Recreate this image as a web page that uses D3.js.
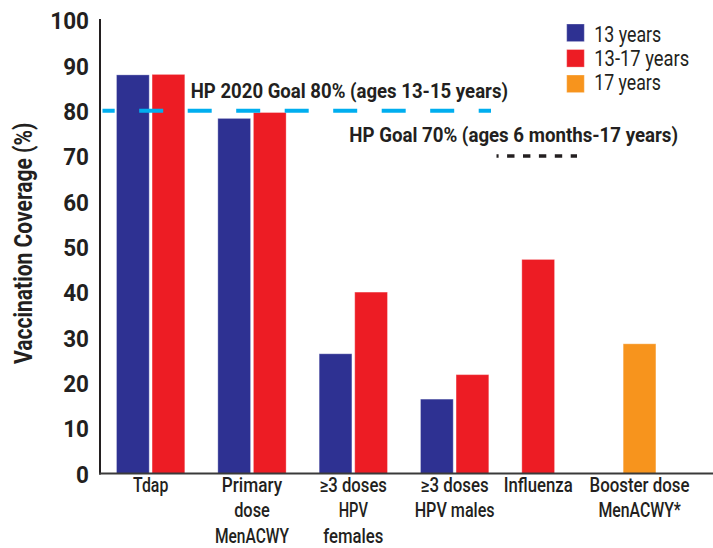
<!DOCTYPE html>
<html>
<head>
<meta charset="utf-8">
<script src="https://cdn.jsdelivr.net/npm/d3@7"></script>
<style>
  html, body { margin: 0; padding: 0; background: #fff; }
  svg { display: block; }
  text { font-family: Roboto, "Liberation Sans", "DejaVu Sans", sans-serif; fill: #231f20; }
</style>
</head>
<body>
<svg id="chart" width="713" height="548"></svg>
<script>
const categories = ["Tdap", "Primary dose MenACWY", "≥3 doses HPV females", "≥3 doses HPV males", "Influenza", "Booster dose MenACWY*"];
const categoryLines = [["Tdap"], ["Primary", "dose", "MenACWY"], ["≥3 doses", "HPV", "females"], ["≥3 doses", "HPV males"], ["Influenza"], ["Booster dose", "MenACWY*"]];
const seriesNames = ["13 years", "13-17 years", "17 years"];
const seriesColors = ["#2e3192", "#ed1c24", "#f7941d"];
const values13 = [87.9, 78.3, 26.4, 16.4, null, null];
const values1317 = [88.0, 79.6, 40.0, 21.8, 47.2, null];
const values17 = [null, null, null, null, null, 28.6];
const yTicks = [0, 10, 20, 30, 40, 50, 60, 70, 80, 90, 100];
const goal2020 = 80;
const goal2020Label = "HP 2020 Goal 80% (ages 13-15 years)";
const goalFlu = 70;
const goalFluLabel = "HP Goal 70% (ages 6 months-17 years)";
const yTitle = "Vaccination Coverage (%)";

// condensed-look text widths (styling only)
const catLineWidths = [[35.3], [60.3, 35.7, 74], [67.3, 29.3, 60], [68, 80], [69], [100, 82.3]];
const legendWidths = [67, 95, 66.7];

const svg = d3.select("#chart");
const seriesValues = [values13, values1317, values17];

const y = d3.scaleLinear().domain([0, 100]).range([473.5, 20]);
const x = d3.scaleBand().domain(categories).range([100, 708]).paddingInner(0);
const slot = d3.scaleBand().domain([0, 1]).range([16.5, 84.8]).paddingInner(0.08);

function fit(sel, w) {
  sel.attr("textLength", w).attr("lengthAdjust", "spacingAndGlyphs");
}
// horizontally squeeze a whole text element with a transform
function squeeze(sel, x0, y0, w, anchor) {
  const natural = sel.node().getComputedTextLength();
  const k = w / natural;
  sel.attr("x", 0).attr("y", 0)
    .attr("text-anchor", anchor || "start")
    .attr("transform", `translate(${x0},${y0}) scale(${k},1)`);
}

// bars
const bars = [];
categories.forEach((c, ci) => {
  let k = 0;
  seriesValues.forEach((vals, si) => {
    if (vals[ci] != null) {
      bars.push({cat: c, ci, si, v: vals[ci], slot: k});
      k++;
    }
  });
});

svg.append("g").selectAll("rect").data(bars).join("rect")
  .attr("x", d => x(d.cat) + slot(d.slot))
  .attr("width", slot.bandwidth())
  .attr("y", d => y(d.v))
  .attr("height", d => y(0) - y(d.v))
  .attr("fill", d => seriesColors[d.si])
  .attr("stroke", "#ffffff")
  .attr("stroke-opacity", 0.3)
  .attr("stroke-width", 1);

// y axis
const yAxis = d3.axisLeft(y).tickValues(yTicks).tickSize(0).tickPadding(11);
const gy = svg.append("g").attr("transform", "translate(100,0)").call(yAxis);
gy.select(".domain").remove();
gy.attr("font-family", null).attr("font-size", null);
gy.selectAll("text")
  .style("font-size", "24.5px").style("font-weight", "bold").attr("fill", "#231f20")
  .attr("dy", "0.36em")
  .each(function(d) { fit(d3.select(this), String(d).length * 12.9); });

svg.append("line").attr("x1", 100).attr("x2", 100).attr("y1", 19).attr("y2", y(0) + 1)
  .attr("stroke", "#231f20").attr("stroke-width", 2);
svg.append("line").attr("x1", 99).attr("x2", 713).attr("y1", y(0)).attr("y2", y(0))
  .attr("stroke", "#3a3a3a").attr("stroke-width", 2.2);

// y title
svg.append("text")
  .attr("transform", `translate(32.3,243.3) rotate(-90)`)
  .attr("text-anchor", "middle")
  .style("font-size", "26.5px").style("font-weight", "bold")
  .text(yTitle)
  .call(fit, 241.3);

// category labels
const catG = svg.append("g");
categories.forEach((c, ci) => {
  const present = bars.filter(b => b.ci === ci);
  const cx = d3.mean(present, b => x(b.cat) + slot(b.slot) + slot.bandwidth() / 2);
  const t = catG.append("text").attr("x", cx).attr("y", 492).attr("text-anchor", "middle")
    .style("font-size", "20px").style("font-weight", 500);
  categoryLines[ci].forEach((ln, li) => {
    t.append("tspan").attr("x", cx).attr("dy", li === 0 ? 0 : 25.3).text(ln)
      .call(fit, catLineWidths[ci][li]);
  });
});

// goal lines
svg.append("line").attr("x1", 102.5).attr("x2", 491).attr("y1", y(goal2020)).attr("y2", y(goal2020))
  .attr("stroke", "#00aeef").attr("stroke-width", 4)
  .attr("stroke-dasharray", "24,24.5").attr("stroke-dashoffset", 11.8);
svg.append("text")
  .style("font-size", "21px").style("font-weight", "bold").text(goal2020Label)
  .call(squeeze, 190.7, 98.3, 317.3);

svg.append("line").attr("x1", 496.5).attr("x2", 577).attr("y1", y(goalFlu)).attr("y2", y(goalFlu))
  .attr("stroke", "#231f20").attr("stroke-width", 3.5)
  .attr("stroke-dasharray", "7.4,8.5").attr("stroke-dashoffset", 5.3);
svg.append("text")
  .style("font-size", "21px").style("font-weight", "bold").text(goalFluLabel)
  .call(squeeze, 349.3, 141.7, 329);

// legend
const lg = svg.append("g").attr("transform", "translate(566.7,0)");
seriesNames.forEach((n, i) => {
  lg.append("rect").attr("x", 0).attr("y", 24 + i * 25.5).attr("width", 17.6).attr("height", 17.6)
    .attr("fill", seriesColors[i]).attr("stroke", "#ffffff").attr("stroke-opacity", 0.3);
  lg.append("text").attr("x", 27.6).attr("y", 41.7 + i * 24.2)
    .style("font-size", "22px").text(n)
    .call(fit, legendWidths[i]);
});
</script>
</body>
</html>
